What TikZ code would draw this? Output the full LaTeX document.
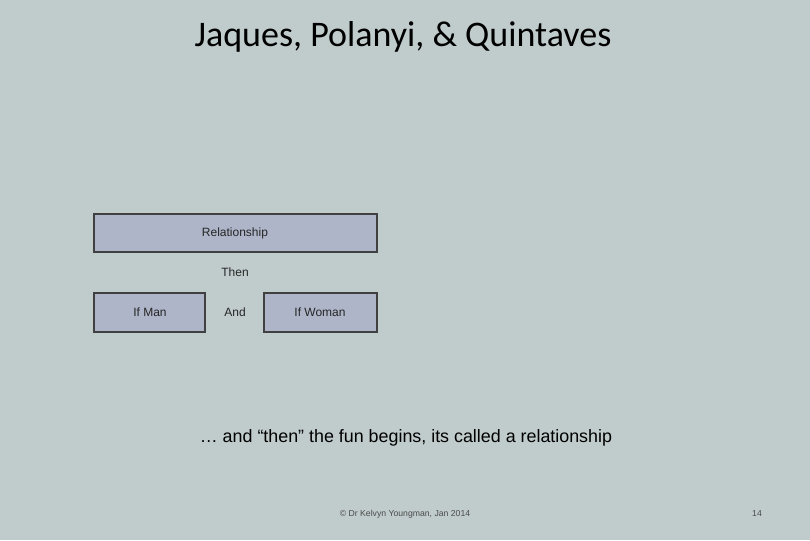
\documentclass[tikz,border=0pt]{standalone}
\usepackage{fontspec}
\setmainfont{Liberation Sans}
\newfontfamily\titlefont{Carlito}
\definecolor{bg}{RGB}{192,203,203}
\definecolor{boxfill}{RGB}{174,181,200}
\definecolor{boxline}{RGB}{64,64,64}
\begin{document}
\begin{tikzpicture}[x=0.75pt,y=-0.75pt,
  box/.style={draw=boxline,line width=1.5pt,fill=boxfill,inner sep=0pt},
  lbl/.style={font=\fontsize{9}{11}\selectfont,text=black!85}]
\fill[bg] (0,0) rectangle (810,540);
\useasboundingbox (0,0) rectangle (810,540);
\node[font=\titlefont\fontsize{27}{32}\selectfont] (title) at (403,37) {Jaques, Polanyi, \& Quintaves};
\draw[box] (94,214) rectangle (377,252);
\node[lbl] (rel) at (235,233) {Relationship};
\node[lbl] (then) at (235,272) {Then};
\draw[box] (94,293) rectangle (205,332);
\node[lbl] (man) at (150,312) {If Man};
\node[lbl] (and) at (235,312) {And};
\draw[box] (264,293) rectangle (377,332);
\node[lbl] (woman) at (320,312) {If Woman};
\node[font=\fontsize{13.4}{16}\selectfont] (cap) at (406,438) {… and “then” the fun begins, its called a relationship};
\node[font=\fontsize{6.5}{8}\selectfont,text=black!70] (foot) at (405,514) {© Dr Kelvyn Youngman, Jan 2014};
\node[font=\fontsize{6.5}{8}\selectfont,text=black!70] (num) at (757,514) {14};
\end{tikzpicture}
\end{document}
